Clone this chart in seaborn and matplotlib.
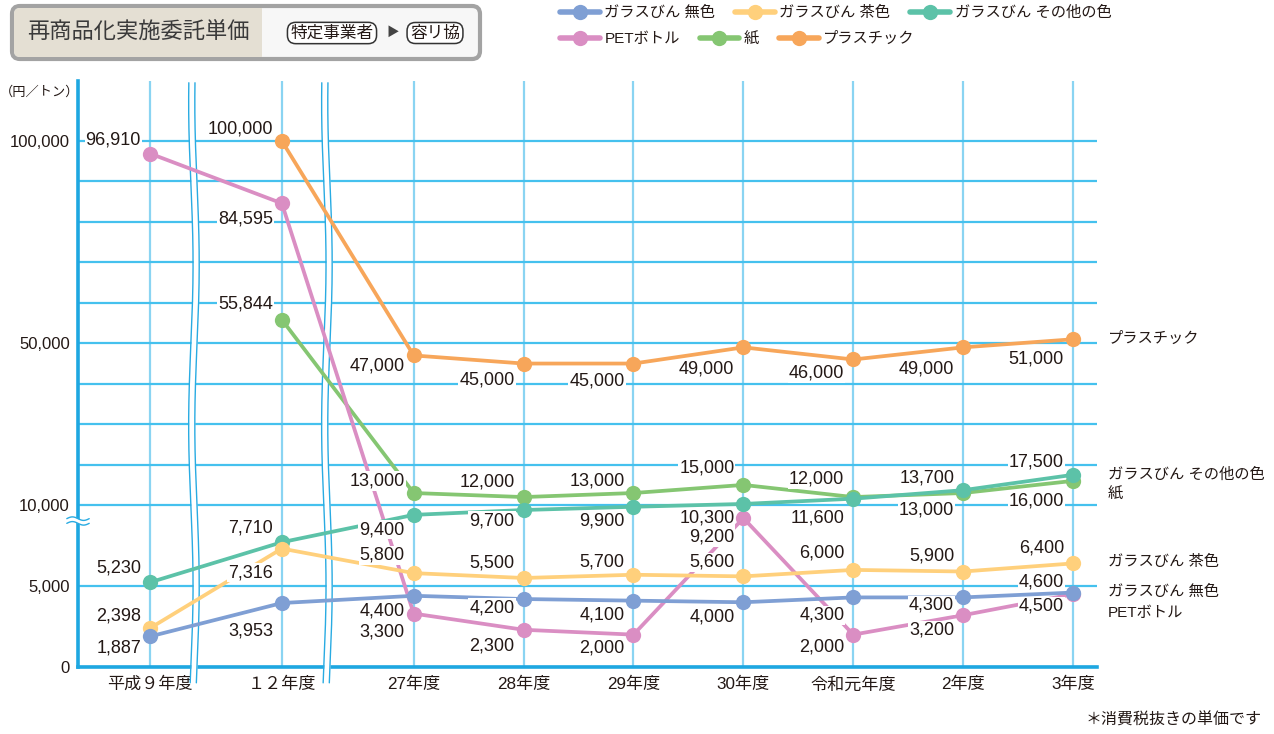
import numpy as np
import pandas as pd
import matplotlib
matplotlib.use("Agg")
import matplotlib.pyplot as plt
import matplotlib.transforms as mtransforms
from matplotlib.lines import Line2D
from matplotlib.patches import FancyBboxPatch, Rectangle
import seaborn as sns

# -----------------------------
# data (円／トン)
# -----------------------------
categories = ["平成９年度", "１２年度", "27年度", "28年度", "29年度", "30年度", "令和元年度", "2年度", "3年度"]
glass_clear = [1887, 3953, 4400, 4200, 4100, 4000, 4300, 4300, 4600]
glass_brown = [2398, 7316, 5800, 5500, 5700, 5600, 6000, 5900, 6400]
glass_other = [5230, 7710, 9400, 9700, 9900, 10300, 11600, 13700, 17500]
pet_bottle = [96910, 84595, 3300, 2300, 2000, 9200, 2000, 3200, 4500]
paper = [np.nan, 55844, 13000, 12000, 13000, 15000, 12000, 13000, 16000]
plastic = [np.nan, 100000, 47000, 45000, 45000, 49000, 46000, 49000, 51000]

series_names = ["ガラスびん 無色", "ガラスびん 茶色", "ガラスびん その他の色", "PETボトル", "紙", "プラスチック"]

# -----------------------------
# layout / style
# -----------------------------
x_step = [0, 1.2, 1.2, 1, 1, 1, 1, 1, 1]   # wider gaps across the broken x axis
break_at = [0.40, 1.61]
colors = {
    "ガラスびん 無色": "#7f9fd4",
    "ガラスびん 茶色": "#ffd07c",
    "ガラスびん その他の色": "#5cc2a8",
    "PETボトル": "#da8ec3",
    "紙": "#85c672",
    "プラスチック": "#f7a65a",
}
draw_order = ["プラスチック", "紙", "PETボトル", "ガラスびん その他の色", "ガラスびん 茶色", "ガラスびん 無色"]
# vertical offset (px) of each value label
label_dy = {
    "ガラスびん 無色": [-12, -28, -15, -9, -14, -15, -18, -8, 11],
    "ガラスびん 茶色": [12, -24, 18, 15, 13, 14, 17, 16, 15],
    "ガラスびん その他の色": [14, 14, -15, -11, -14, -14, -19, 12, 13],
    "PETボトル": [14, -16, -18, -16, -13, -19, -12, -15, -12],
    "紙": [0, 16, 12, 15, 12, 17, 18, -17, -20],
    "プラスチック": [0, 12, -11, -16, -17, -22, -14, -22, -20],
}
side_dy = {"ガラスびん 無色": 1, "ガラスびん 茶色": 1, "ガラスびん その他の色": 0,
           "PETボトル": -19, "紙": -14, "プラスチック": 0}
TXT = "#231815"

sns.set_style("white")
plt.rcParams["font.family"] = ["Liberation Sans", "Noto Sans CJK JP", "DejaVu Sans"]

x_pos = np.cumsum(x_step)
values = dict(zip(series_names, [glass_clear, glass_brown, glass_other, pet_bottle, paper, plastic]))

rows = []
for name in series_names:
    for cat, x, v in zip(categories, x_pos, values[name]):
        if not np.isnan(v):
            rows.append([cat, x, v, name])
df = pd.DataFrame(rows, columns=["年度", "x", "単価", "品目"])


# broken y axis: 0-10,000 stretched 4x
def fwd(y):
    y = np.asarray(y, dtype=float)
    return np.where(y <= 10000, y * 4, y + 30000)


def inv(v):
    v = np.asarray(v, dtype=float)
    return np.where(v <= 40000, v / 4, v - 30000)


W, H = 1274, 734
fig = plt.figure(figsize=(W / 100, H / 100), dpi=100)
ax = fig.add_axes([78 / W, 67 / H, (1097 - 78) / W, (667 - 81) / H])

sns.lineplot(data=df, x="x", y="単価", hue="品目", hue_order=draw_order, palette=colors,
             marker="o", markersize=11, markeredgewidth=0, linewidth=2.7,
             errorbar=None, legend=False, ax=ax, zorder=3)

ax.set_yscale("function", functions=(fwd, inv))
ax.set_ylim(0, 114830)
ax.set_xlim(-0.655, 8.618)

ax.set_yticks([0, 5000, 10000, 50000, 100000], labels=["0", "5,000", "10,000", "50,000", "100,000"])
ax.set_yticks(np.arange(20000, 100000, 10000), minor=True)
ax.set_xticks(x_pos, labels=categories)
ax.set_xlabel("")
ax.set_ylabel("")
ax.grid(axis="y", which="both", color="#45c1ee", lw=1.6)
ax.grid(axis="x", color="#8ad4f2", lw=1.6)
ax.set_axisbelow(True)
ax.tick_params(axis="both", which="both", length=0, labelsize=12, colors=TXT)
ax.tick_params(axis="y", pad=6)
ax.tick_params(axis="x", pad=7, labelsize=12.3)
for s in ["top", "right"]:
    ax.spines[s].set_visible(False)
for s in ["left", "bottom"]:
    ax.spines[s].set_color("#1ea7e1")
    ax.spines[s].set_linewidth(2.6)

# wavy break bands on the x axis
trans = mtransforms.blended_transform_factory(ax.transData, ax.transAxes)
t = np.linspace(-0.027, 0.997, 300)
for xc in break_at:
    wave = xc + 0.02 * np.sin(2 * np.pi * t / 0.55)
    ax.fill_betweenx(t, wave - 0.028, wave + 0.028, color="white", lw=0,
                     transform=trans, zorder=2.7, clip_on=False)
    for side in (-0.028, 0.028):
        ax.plot(wave + side, t, color="#29abe2", lw=1, transform=trans,
                zorder=2.75, clip_on=False)

# break mark on the y axis
u = np.linspace(-0.011, 0.011, 60)
yc = (667 - 521) / 586
wob = 0.003 * np.sin(2 * np.pi * (u + 0.011) / 0.022)
ax.fill_between(u, yc - 0.004 + wob, yc + 0.004 + wob, color="white", lw=0,
                transform=ax.transAxes, zorder=4, clip_on=False)
for side in (-0.004, 0.004):
    ax.plot(u, yc + side + wob, color="#29abe2", lw=1, transform=ax.transAxes,
            zorder=4.1, clip_on=False)

# value labels
for name in series_names:
    for x, v, dy in zip(x_pos, values[name], label_dy[name]):
        if np.isnan(v):
            continue
        ax.annotate(f"{v:,.0f}", (x, v), xytext=(-9, dy), textcoords="offset pixels",
                    ha="right", va="center", fontsize=13, color=TXT, zorder=6,
                    bbox=dict(boxstyle="square,pad=0.06", fc="white", ec="none"))

# series names at the right
for name in series_names:
    ax.annotate(name, (x_pos[-1], values[name][-1]), xytext=(35, side_dy[name]),
                textcoords="offset pixels", ha="left", va="center", fontsize=11,
                color=TXT, annotation_clip=False)

# legend in two rows
handles = {n: Line2D([], [], color=colors[n], lw=4, marker="o", markersize=11,
                     markeredgewidth=0) for n in series_names}
for row, top in ((series_names[:3], 6), (series_names[3:], 32)):
    fig.legend([handles[n] for n in row], row, ncol=3, loc="upper left",
               bbox_to_anchor=(560 / W, 1 - top / H), frameon=False, fontsize=11,
               handlelength=2.6, handletextpad=0.3, columnspacing=1.3,
               borderpad=0, borderaxespad=0, labelcolor=TXT)

# title box
ident = mtransforms.IdentityTransform()
fig.add_artist(FancyBboxPatch((12, H - 59), 468, 53, boxstyle="round,pad=0,rounding_size=8",
                              fc="#f7f7f7", ec="#a3a3a3", lw=3, transform=ident))
fig.add_artist(FancyBboxPatch((14, H - 57), 248, 49, boxstyle="round,pad=0,rounding_size=6",
                              fc="#e4dfd3", ec="none", transform=ident))
fig.add_artist(Rectangle((240, H - 57), 22, 49, fc="#e4dfd3", ec="none", transform=ident))
fig.text(138 / W, 1 - 33 / H, "再商品化実施委託単価", ha="center", va="center",
         fontsize=16, color="#3a3a3a")
box = dict(boxstyle="round,pad=0.18,rounding_size=0.5", fc="white", ec="#333333", lw=1.1)
fig.text(332 / W, 1 - 33 / H, "特定事業者", ha="center", va="center", fontsize=12,
         color=TXT, bbox=box)
fig.text(393 / W, 1 - 33 / H, "▶", ha="center", va="center", fontsize=9, color="#444444")
fig.text(435 / W, 1 - 33 / H, "容リ協", ha="center", va="center", fontsize=12,
         color=TXT, bbox=box)

fig.text(40 / W, 1 - 92 / H, "（円／トン）", ha="center", va="center", fontsize=9.5, color=TXT)
fig.text(1262 / W, 1 - 720 / H, "＊消費税抜きの単価です", ha="right", va="center",
         fontsize=11.5, color=TXT)

fig.savefig("out.png", dpi=100)
